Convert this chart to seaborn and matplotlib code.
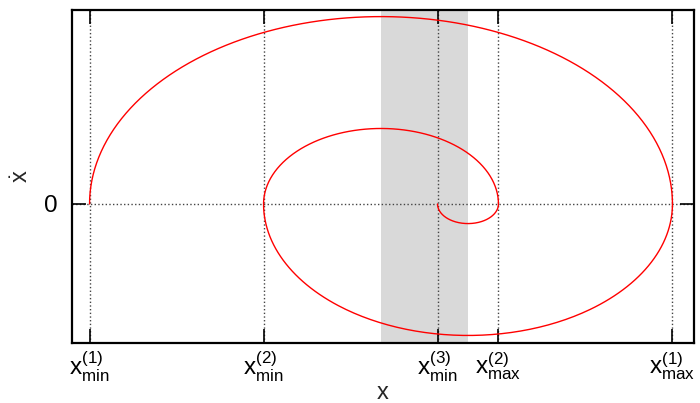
import numpy as np
import pandas as pd
import matplotlib
matplotlib.use("Agg")
import matplotlib.pyplot as plt
import seaborn as sns

# Turning points of the trajectory (x where xdot = 0), in order of time
turning_points = [-7.7, 5.7, -3.7, 1.7, 0.3]
# Friction dead zone (shaded band)
dead_zone = [-1.0, 1.0]
# x tick positions and labels
x_ticks = [-7.7, -3.7, 0.3, 1.7, 5.7]
x_tick_labels = [r"x$_{\rm min}^{(1)}$", r"x$_{\rm min}^{(2)}$", r"x$_{\rm min}^{(3)}$",
                 r"x$_{\rm max}^{(2)}$", r"x$_{\rm max}^{(1)}$"]
y_ticks = [0]
y_tick_labels = ["0"]

sns.set_style("ticks")
plt.rcParams["font.family"] = ["Liberation Sans", "DejaVu Sans"]
plt.rcParams["mathtext.fontset"] = "custom"
plt.rcParams["mathtext.rm"] = "Liberation Sans"
plt.rcParams["mathtext.it"] = "Liberation Sans"
plt.rcParams["mathtext.bf"] = "Liberation Sans:bold"

# Build the phase trajectory: half ellipses between successive turning points
rows = []
for i in range(len(turning_points) - 1):
    a, b = turning_points[i], turning_points[i + 1]
    c = (a + b) / 2.0
    r = abs(b - a) / 2.0
    if b > a:
        th = np.linspace(np.pi, 0, 200)
    else:
        th = np.linspace(0, -np.pi, 200)
    for t in th:
        rows.append((c + r * np.cos(t), r * np.sin(t)))
df = pd.DataFrame(rows, columns=["x", "xdot"])

fig = plt.figure(figsize=(7.0, 4.03), dpi=100)
ax = fig.add_axes([72 / 700, 60 / 403, 622 / 700, 333 / 403])

ax.axvspan(dead_zone[0], dead_zone[1], color="#d9d9d9", zorder=0, lw=0)
sns.lineplot(data=df, x="x", y="xdot", sort=False, color="red", lw=1.0, ax=ax,
             estimator=None, zorder=3)

px = 43.5
ax.set_xlim((72 - 424.5) / px, (694 - 424.5) / px)
py = 27.97
ax.set_ylim(-(343 - 204) / py, (204 - 10) / py)

ax.set_xticks(x_ticks)
ax.set_xticklabels(x_tick_labels, fontsize=17.5)
ax.set_yticks(y_ticks)
ax.set_yticklabels(y_tick_labels, fontsize=17.5)
ax.tick_params(direction="in", length=10, width=1.2, top=True, right=True,
               colors="black")
ax.tick_params(axis="x", pad=5)
ax.tick_params(axis="y", pad=10)
ax.set_axisbelow(True)
ax.grid(True, linestyle=":", color="#444444", lw=1.0)
for s in ax.spines.values():
    s.set_linewidth(1.6)
    s.set_color("black")

ax.set_xlabel("x", fontsize=17, labelpad=-2)
ax.set_ylabel(r"$\dot{\rm x}$", fontsize=17, labelpad=8)

fig.savefig("out.png", dpi=100)
